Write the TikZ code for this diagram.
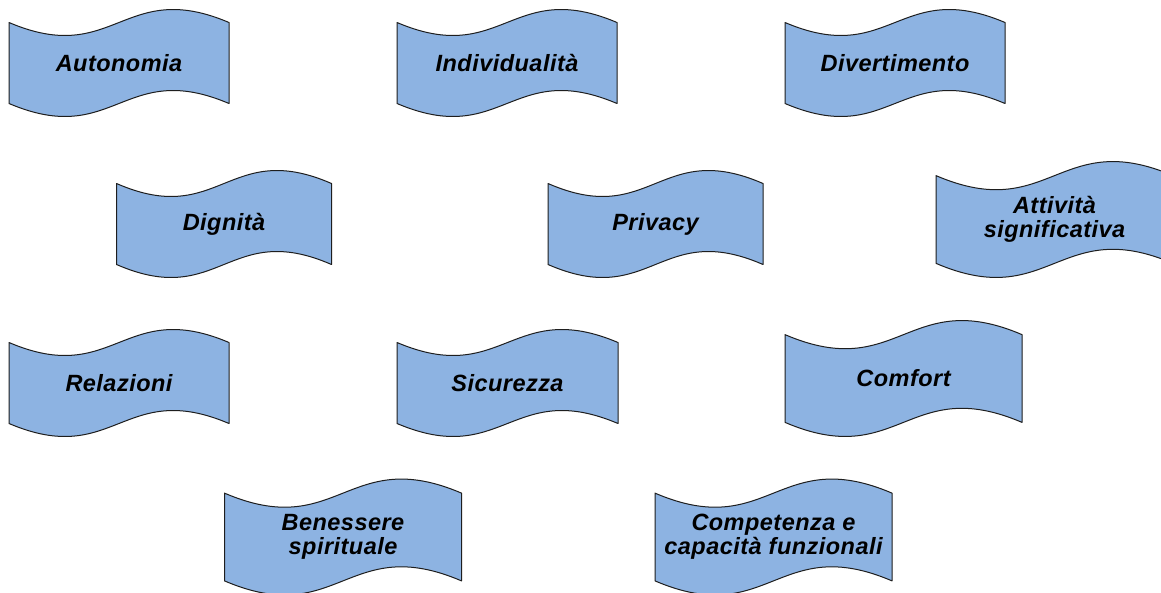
\documentclass[tikz,border=0pt]{standalone}
\usepackage{fontspec}
\setmainfont{Liberation Sans}[LetterSpace=2]
\usepackage{tikz}
\usetikzlibrary{calc,backgrounds}
\usepackage{xcolor}
\definecolor{wavefill}{HTML}{8DB3E2}
\definecolor{ink}{HTML}{1E1E1E}
\tikzset{
  every node/.style={font=\fontsize{23.5}{24}\selectfont\bfseries\itshape,text=black},
  flag/.style={minimum width=220pt,minimum height=108pt,align=center,inner sep=0pt,outer sep=0pt},
  midflag/.style={flag,minimum width=215pt},
  wideflag/.style={flag,minimum width=237pt,minimum height=117pt},
  wave/.style={draw=ink,fill=wavefill,line width=1pt,line join=round},
}
% wavy banner behind a node: both long edges are one cubic each,
% amplitude h/8, straight short sides
\newcommand{\wavepath}[1]{%
  \path[wave] let \p1=(#1.north west), \p2=(#1.south east),
    \n1={(\y1-\y2)/8}, \n2={(\y1-\y2)*10/24}, \n3={\x2-\x1} in
    (\x1,\y1-\n1) .. controls (\x1+0.48*\n3,\y1-\n1-\n2) and (\x1+0.52*\n3,\y1-\n1+\n2) .. (\x2,\y1-\n1)
    -- (\x2,\y2+\n1)
    .. controls (\x1+0.52*\n3,\y2+\n1+\n2) and (\x1+0.48*\n3,\y2+\n1-\n2) .. (\x1,\y2+\n1)
    -- cycle;}

\begin{document}
\begin{tikzpicture}[x=1pt,y=-1pt]
\useasboundingbox (0,0) rectangle (1161,592);

% --- first row
\node[flag] (auto) at (119,63) {Autonomia};
\node[flag] (indiv) at (507,63) {Individualità};
\node[flag] (divert) at (895,63) {Divertimento};

% --- second row
\node[midflag] (dign) at (224,224) {Dignità};
\node[midflag] (priv) at (655.5,224) {Privacy};
\node[wideflag] (attiv) at (1054.5,219.5) {Attività\\significativa};

% --- third row
\node[flag] (relaz) at (119,383) {Relazioni};
\node[flag,minimum width=221pt] (sicur) at (507.5,383) {Sicurezza};
\node[wideflag] (comfort) at (903.5,378.5) {Comfort};

% --- bottom row (runs off the page)
\node[wideflag] (benes) at (343,537) {Benessere\\spirituale};
\node[wideflag] (compet) at (773.5,537) {Competenza e\\capacità funzionali};

\begin{scope}[on background layer]
  \fill[white] (0,0) rectangle (1161,592);
  \clip (0,0) rectangle (1161,592);
  \foreach \f in {auto,indiv,divert,dign,priv,attiv,relaz,sicur,comfort,benes,compet}
    {\wavepath{\f}}
\end{scope}

\end{tikzpicture}
\end{document}
